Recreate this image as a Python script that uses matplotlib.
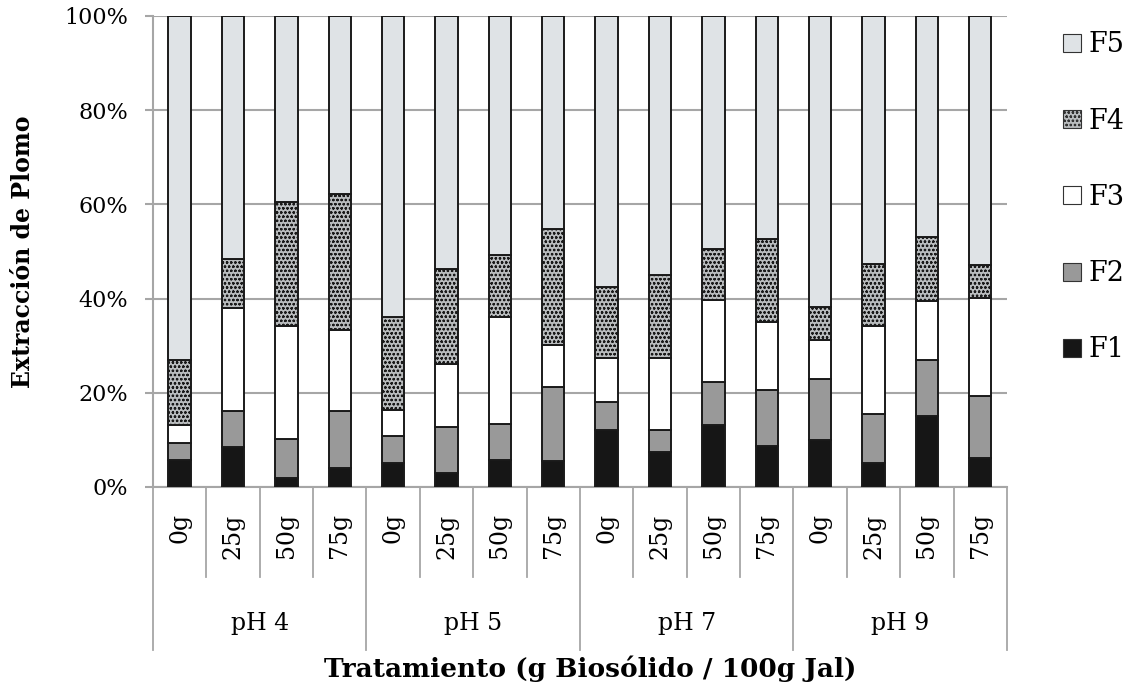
import numpy as np
import matplotlib
matplotlib.use("Agg")
import matplotlib.pyplot as plt
from matplotlib.patches import Patch

# data (percent of total lead per fraction)
doses = ['0g', '25g', '50g', '75g']
groups = ['pH 4', 'pH 5', 'pH 7', 'pH 9']
f1 = [5.8, 8.4, 2.0, 4.0, 5.1, 3.0, 5.8, 5.5, 12.2, 7.4, 13.2, 8.6, 9.9, 5.1, 15.0, 6.2]
f2 = [3.5, 7.7, 8.1, 12.1, 5.7, 9.7, 7.5, 15.7, 5.9, 4.6, 9.1, 11.9, 13.1, 10.5, 12.0, 13.1]
f3 = [3.9, 21.9, 24.0, 17.2, 5.6, 13.5, 22.8, 8.9, 9.2, 15.3, 17.5, 14.5, 8.1, 18.5, 12.4, 20.8]
f4 = [13.8, 10.3, 26.3, 29.0, 19.6, 20.0, 13.1, 24.6, 15.2, 17.6, 10.8, 17.7, 7.1, 13.3, 13.7, 7.1]
f5 = [73.0, 51.7, 39.6, 37.7, 64.0, 53.8, 50.8, 45.3, 57.5, 55.1, 49.4, 47.3, 61.8, 52.6, 46.9, 52.8]

plt.rcParams['font.family'] = ['DejaVu Serif']
plt.rcParams['hatch.linewidth'] = 0.6

fig = plt.figure(figsize=(11.39, 6.94), dpi=100)
ax = fig.add_axes([0.1343, 0.2983, 0.7497, 0.6787])

x = np.arange(len(f1))
series = [
    ('F1', f1, dict(color='#161616')),
    ('F2', f2, dict(color='#999999')),
    ('F3', f3, dict(color='white')),
    ('F4', f4, dict(color='#b9bcbe', hatch='oooo')),
    ('F5', f5, dict(color='#dfe3e6')),
]
bottom = np.zeros(len(f1))
handles = []
for name, vals, st in series:
    ax.bar(x, vals, 0.42, bottom=bottom, facecolor=st['color'], edgecolor='#1a1a1a',
           linewidth=1.4, hatch=st.get('hatch'), zorder=3)
    bottom += np.array(vals)
    handles.append(Patch(facecolor=st['color'], edgecolor='#333333', linewidth=0.8,
                         hatch=st.get('hatch')))

ax.set_xlim(-0.5, 15.5)
ax.set_ylim(0, 100)
ax.set_yticks(range(0, 101, 20))
ax.set_yticklabels([str(v) + '%' for v in range(0, 101, 20)], fontsize=16)
ax.yaxis.grid(True, color='#a6a6a6', linewidth=1.5, zorder=0)
ax.tick_params(axis='y', length=6, width=1.5, color='#a6a6a6', pad=12)
ax.set_xticks([])
for s in ['top', 'right']:
    ax.spines[s].set_visible(False)
ax.spines['left'].set_color('#a6a6a6')
ax.spines['left'].set_linewidth(1.5)
ax.spines['bottom'].set_color('#a6a6a6')
ax.spines['bottom'].set_linewidth(1.5)

# two level category axis
tr = ax.get_xaxis_transform()
for i in range(len(f1) + 1):
    xb = i - 0.5
    low = -0.346 if i % 4 == 0 else -0.191
    ax.plot([xb, xb], [0, low], transform=tr, color='#a6a6a6', lw=1.3, clip_on=False)
for i in range(len(f1)):
    ax.text(i, -0.056, doses[i % 4], transform=tr, rotation=90, ha='center', va='top',
            fontsize=17)
for g, name in enumerate(groups):
    ax.text(g * 4 + 1.5, -0.289, name, transform=tr, ha='center', va='center', fontsize=17)

fig.text(0.0202, 0.6376, 'Extracción de Plomo', rotation=90, ha='center', va='center',
         fontsize=17, fontweight='bold')
fig.text(0.518, 0.037, 'Tratamiento (g Biosólido / 100g Jal)', ha='center', va='center',
         fontsize=19, fontweight='bold')

fig.legend(handles[::-1], ['F5', 'F4', 'F3', 'F2', 'F1'], loc='upper left',
           bbox_to_anchor=(0.912, 0.99), frameon=False, fontsize=19.5,
           handlelength=0.65, handleheight=0.65, handletextpad=0.3, labelspacing=1.82)

fig.savefig('out.png', dpi=100)
